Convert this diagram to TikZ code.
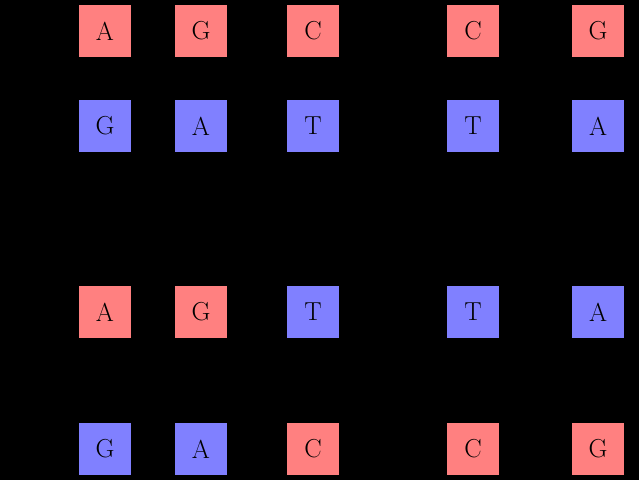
\documentclass[tikz,border=0pt]{standalone}
\usepackage{tikz}
\definecolor{basered}{HTML}{FF8080}
\definecolor{baseblue}{HTML}{8080FF}
\tikzset{
	base/.style={minimum size=52pt,inner sep=0pt,font=\fontsize{26}{26}\selectfont},
	purine/.style={base,fill=basered},
	pyrimidine/.style={base,fill=baseblue}
}
\begin{document}
\begin{tikzpicture}[x=1pt,y=-1pt]
	\fill[black] (0,0) rectangle (639,480);
	\useasboundingbox (0,0) rectangle (639,480);
	% top strand pair
	\node[purine] (a1) at (105,31) {A};
	\node[purine] (a2) at (201,31) {G};
	\node[purine] (a3) at (313,31) {C};
	\node[purine] (a4) at (473,31) {C};
	\node[purine] (a5) at (598,31) {G};
	\node[pyrimidine] (b1) at (105,126) {G};
	\node[pyrimidine] (b2) at (201,126) {A};
	\node[pyrimidine] (b3) at (313,126) {T};
	\node[pyrimidine] (b4) at (473,126) {T};
	\node[pyrimidine] (b5) at (598,126) {A};
	% bottom strand pair
	\node[purine] (c1) at (105,312) {A};
	\node[purine] (c2) at (201,312) {G};
	\node[pyrimidine] (c3) at (313,312) {T};
	\node[pyrimidine] (c4) at (473,312) {T};
	\node[pyrimidine] (c5) at (598,312) {A};
	\node[pyrimidine] (d1) at (105,449) {G};
	\node[pyrimidine] (d2) at (201,449) {A};
	\node[purine] (d3) at (313,449) {C};
	\node[purine] (d4) at (473,449) {C};
	\node[purine] (d5) at (598,449) {G};
\end{tikzpicture}
\end{document}
